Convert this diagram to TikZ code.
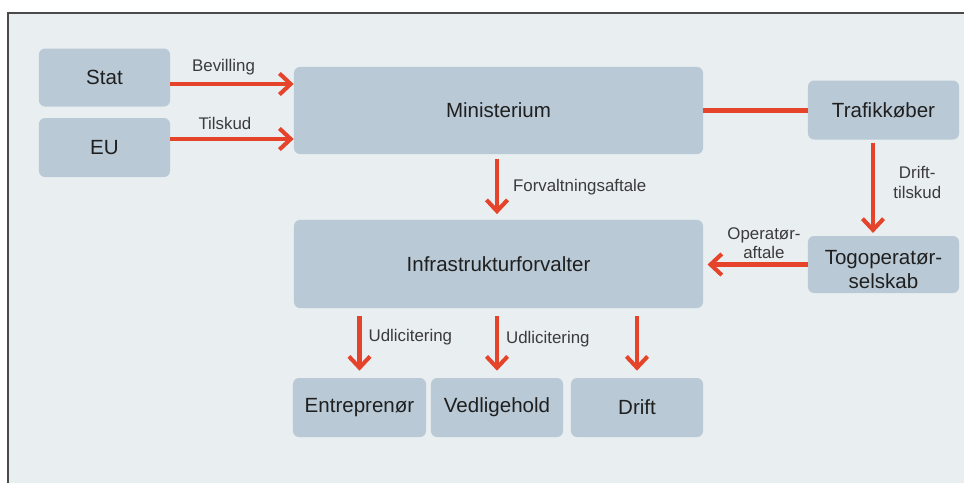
\documentclass[tikz,border=0pt]{standalone}
\usepackage{fontspec}
\setmainfont{Liberation Sans}
\usepackage{xcolor}
\usepackage{tikz}
\usetikzlibrary{calc}
\usetikzlibrary{arrows.meta}
\usetikzlibrary{positioning}
\definecolor{bbccdd}{rgb}{0.725,0.788,0.839}
\definecolor{eeqqqq}{rgb}{0.898,0.263,0.165}
\definecolor{eeeeff}{rgb}{0.914,0.933,0.945}
\definecolor{uuuuuu}{rgb}{0.29,0.29,0.29}
\definecolor{qqqqqq}{rgb}{0.12,0.12,0.12}
\definecolor{ttttuu}{rgb}{0.23,0.23,0.23}
\tikzstyle{every node}=[font=\fontsize{12}{14}\selectfont]
\tikzstyle{boks}=[fill=bbccdd,rounded corners=4.3pt,inner sep=0pt,align=center,text=qqqqqq,font=\fontsize{14.6}{16.4}\selectfont]
\tikzstyle{pil}=[->,line width=2.9pt,color=eeqqqq]
\tikzstyle{etiket}=[text=ttttuu,align=center,inner sep=0pt]

\begin{document}
\begin{tikzpicture}[line cap=butt,line join=miter,>={Straight Barb[length=8pt,width=15pt]},x=0.025cm,y=-0.025cm]
    \useasboundingbox (0,0) rectangle (964,483);
    \fill [eeeeff] (8,13) rectangle (964,483);
    \draw [line width=1.2pt,color=uuuuuu] (8,483) -- (8,13) -- (964,13);
    % boxes
    \node [boks,minimum width=3.275cm,minimum height=1.45cm] (stat) at (104.5,77.5) {Stat};
    \node [boks,minimum width=3.275cm,minimum height=1.475cm] (eu) at (104.5,147.5) {EU};
    \node [boks,minimum width=10.225cm,minimum height=2.175cm] (min) at (498.5,110.5) {Ministerium};
    \node [boks,minimum width=3.775cm,minimum height=1.475cm] (traf) at (883.5,110) {Trafikkøber};
    \node [boks,minimum width=3.775cm,minimum height=1.425cm] (tog) at (883.5,264.5) {\raisebox{-3.5pt}[\height][\depth]{\shortstack{Togoperatør-\\[1pt]selskab}}};
    \node [boks,minimum width=10.225cm,minimum height=2.2cm] (infra) at (498.5,264) {Infrastrukturforvalter};
    \node [boks,minimum width=3.325cm,minimum height=1.475cm] (entr) at (359.5,407.5) {Entreprenør};
    \node [boks,minimum width=3.3cm,minimum height=1.475cm] (vedl) at (497,407.5) {Vedligehold};
    \node [boks,minimum width=3.3cm,minimum height=1.475cm] (drift) at (637,407.5) {Drift};
    % connector ends
    \coordinate (statud) at ($(stat.east)+(0,6.5)$);
    \coordinate (euud) at ($(eu.east)+(0,-8.5)$);
    \coordinate (minud) at ($(min.south)+(-1.5,0)$);
    \coordinate (trafud) at ($(traf.south)+(-10.5,0)$);
    \coordinate (togind) at ($(tog.north)+(-10.5,0)$);
    % connectors
    \draw [pil] (statud) -- (statud -| min.west)
        node [etiket,midway,above=5pt,xshift=-6pt] {Bevilling};
    \draw [pil] (euud) -- (euud -| min.west)
        node [etiket,midway,above=5pt,xshift=-5pt] {Tilskud};
    \draw [line width=2.9pt,color=eeqqqq] (min.east) -- (min.east -| traf.west);
    \draw [pil,shorten <=3pt,shorten >=4pt] (minud) -- (minud |- infra.north)
        node [etiket,midway,right=10pt,yshift=0pt] {Forvaltningsaftale};
    \draw [pil,shorten <=2pt,shorten >=2pt] (trafud) -- (togind)
        node [etiket,midway,right=13pt,yshift=4pt] {Drift-\\tilskud};
    \draw [pil,shorten >=3pt] (tog.west) -- (tog.west -| infra.east)
        node [etiket,midway,above=2.5pt,xshift=6pt] {Operatør-\\aftale};
    \draw [pil,shorten <=5.5pt,shorten >=5pt] (infra.south -| entr.north) -- (entr.north)
        node [etiket,midway,right=5pt,yshift=4pt] {Udlicitering};
    \draw [pil,shorten <=5.5pt,shorten >=5pt] (infra.south -| vedl.north) -- (vedl.north)
        node [etiket,midway,right=5pt,yshift=2.5pt] {Udlicitering};
    \draw [pil,shorten <=5.5pt,shorten >=5pt] (infra.south -| drift.north) -- (drift.north);
\end{tikzpicture}
\end{document}
